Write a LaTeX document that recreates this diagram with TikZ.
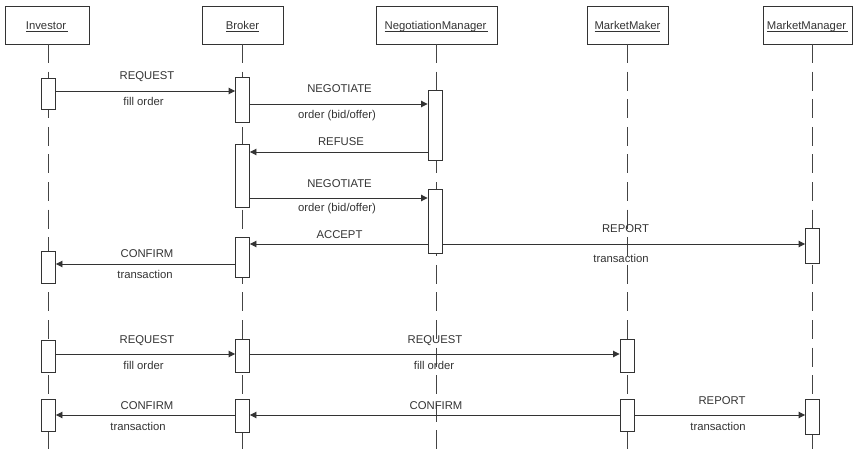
\documentclass[tikz,border=0pt]{standalone}
\usepackage{fontspec}
\setmainfont{Liberation Sans}
\usetikzlibrary{arrows.meta}
\definecolor{ink}{HTML}{333333}
\definecolor{lifeink}{HTML}{444444}
\newcommand\objname[1]{\underline{\smash{#1}}}
\begin{document}
\begin{tikzpicture}[x=1pt, y=-1pt,
  font=\fontsize{11.3}{13}\selectfont, text=ink,
  hdr/.style={draw=ink, line width=0.9pt, minimum height=38pt, inner sep=0pt,
              text height=11pt, text depth=1pt},
  act/.style={draw=ink, fill=white, line width=0.9pt, minimum width=14pt, inner sep=0pt},
  life/.style={draw=lifeink, line width=0.9pt, dash pattern=on 19pt off 8.6pt},
  msg/.style={draw=ink, line width=0.9pt, -{Triangle[length=6.5pt,width=6.5pt]}},
  lbl/.style={anchor=base, inner sep=0pt}]
\useasboundingbox (0,0) rectangle (858,449);

% object headers
\node[hdr, minimum width=84pt]  (inv)  at (47,25)    {\objname{Investor\kern2pt}};
\node[hdr, minimum width=81pt]  (brk)  at (242.5,25) {\objname{Broker}};
\node[hdr, minimum width=121pt] (neg)  at (436.5,25) {\objname{NegotiationManager\kern2pt}};
\node[hdr, minimum width=81pt]  (mkr)  at (627.5,25) {\objname{MarketMaker}};
\node[hdr, minimum width=89pt]  (mgr)  at (807.5,25) {\objname{MarketManager\kern2pt}};

% lifelines
\coordinate (invT) at (48.5,44);  \coordinate (invB) at (48.5,449);
\coordinate (brkT) at (242.5,44); \coordinate (brkB) at (242.5,449);
\coordinate (negT) at (436,44);   \coordinate (negB) at (436,449);
\coordinate (mkrT) at (627.5,44); \coordinate (mkrB) at (627.5,449);
\coordinate (mgrT) at (812.5,44); \coordinate (mgrB) at (812.5,449);
\foreach \l in {inv,brk,neg,mkr,mgr} \draw[life] (\l T) -- (\l B);

% activation bars
\node[act, minimum height=31pt] (i1) at (48.5,93.5)  {};
\node[act, minimum height=32pt] (i2) at (48.5,267)   {};
\node[act, minimum height=32pt] (i3) at (48.5,356)   {};
\node[act, minimum height=32pt] (i4) at (48.5,415)   {};
\node[act, minimum height=45pt] (b1) at (242.5,99.5) {};
\node[act, minimum height=63pt] (b2) at (242.5,175.5){};
\node[act, minimum height=40pt] (b3) at (242.5,257)  {};
\node[act, minimum height=33pt] (b4) at (242.5,355.5){};
\node[act, minimum height=33pt] (b5) at (242.5,415.5){};
\node[act, minimum height=70pt] (n1) at (435,125)    {};
\node[act, minimum height=64pt] (n2) at (435,221)    {};
\node[act, minimum height=33pt] (k1) at (627,355.5)  {};
\node[act, minimum height=32pt] (k2) at (627,415)    {};
\node[act, minimum height=35pt] (m1) at (812.5,245.5){};
\node[act, minimum height=35pt] (m2) at (812.5,416.5){};

% messages
\draw[msg] (i1.east |- 0,91)  -- (b1.west |- 0,91);
\draw[msg] (b1.east |- 0,104) -- (n1.west |- 0,104);
\draw[msg] (n1.west |- 0,152) -- (b2.east |- 0,152);
\draw[msg] (b2.east |- 0,198) -- (n2.west |- 0,198);
\draw[msg] (n2.west |- 0,244) -- (b3.east |- 0,244);
\draw[msg] (n2.east |- 0,244) -- (m1.west |- 0,244);
\draw[msg] (b3.west |- 0,264) -- (i2.east |- 0,264);
\draw[msg] (i3.east |- 0,354) -- (b4.west |- 0,354);
\draw[msg] (b4.east |- 0,354) -- (k1.west |- 0,354);
\draw[msg] (b5.west |- 0,415) -- (i4.east |- 0,415);
\draw[msg] (k2.west |- 0,415) -- (b5.east |- 0,415);
\draw[msg] (k2.east |- 0,415) -- (m2.west |- 0,415);

% message labels
\node[lbl] (t1a)  at (147,80)    {REQUEST};
\node[lbl] (t1b)  at (143.5,106) {fill order};
\node[lbl] (t2a)  at (339.5,93)  {NEGOTIATE};
\node[lbl] (t2b)  at (337,119)   {order (bid/offer)};
\node[lbl] (t3a)  at (341,146)   {REFUSE};
\node[lbl] (t4a)  at (339.5,187) {NEGOTIATE};
\node[lbl] (t4b)  at (337,211)   {order (bid/offer)};
\node[lbl] (t5a)  at (339.5,238) {ACCEPT};
\node[lbl] (t6a)  at (625.5,232) {REPORT};
\node[lbl] (t6b)  at (621,262)   {transaction};
\node[lbl] (t7a)  at (147,257)   {CONFIRM};
\node[lbl] (t7b)  at (145,278)   {transaction};
\node[lbl] (t8a)  at (147,343)   {REQUEST};
\node[lbl] (t8b)  at (143.5,369) {fill order};
\node[lbl] (t9a)  at (435,343)   {REQUEST};
\node[lbl] (t9b)  at (434,369)   {fill order};
\node[lbl] (t10a) at (147,409)   {CONFIRM};
\node[lbl] (t10b) at (138,430)   {transaction};
\node[lbl] (t11a) at (436,409)   {CONFIRM};
\node[lbl] (t12a) at (722,404)   {REPORT};
\node[lbl] (t12b) at (718,430)   {transaction};
\end{tikzpicture}
\end{document}
